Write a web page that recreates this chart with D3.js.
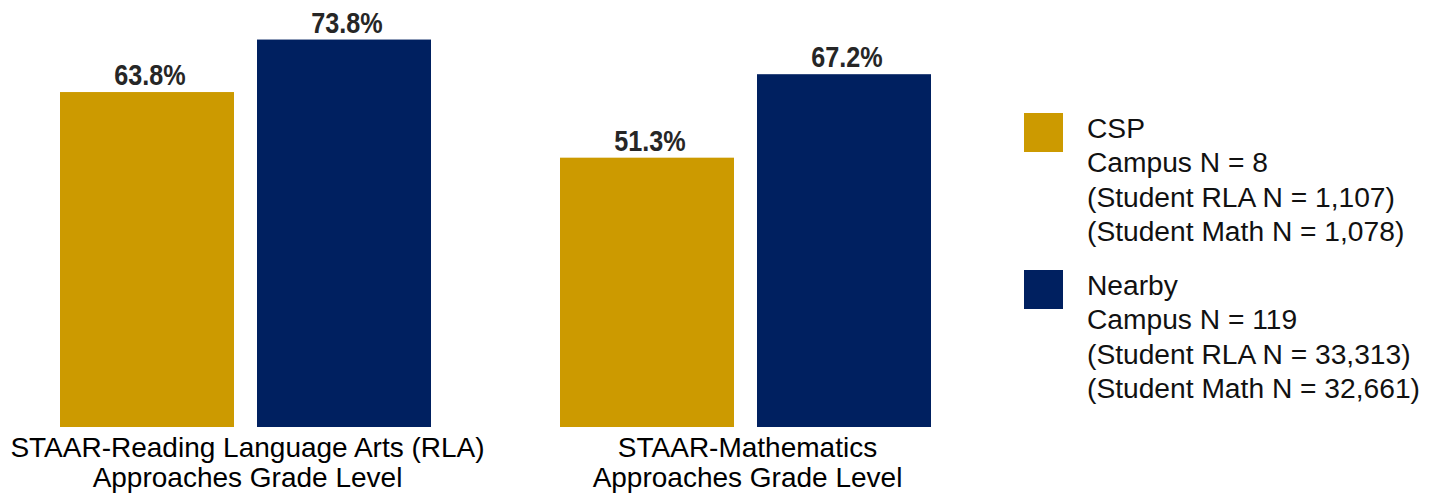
<!DOCTYPE html>
<html>
<head>
<meta charset="utf-8">
<script src="https://cdn.jsdelivr.net/npm/d3@7"></script>
<style>
  body { margin: 0; background: #fff; }
  svg { display: block; }
</style>
</head>
<body>
<script>
// Data
var categories = ["rla", "math"];
var categoryLabels = [
    ["STAAR-Reading Language Arts (RLA)", "Approaches Grade Level"],
    ["STAAR-Mathematics", "Approaches Grade Level"]
];
var seriesNames = ["CSP", "Nearby"];
var cspValues = [63.8, 51.3];
var nearbyValues = [73.8, 67.2];
var legendLines = [
    ["CSP", "Campus N = 8", "(Student RLA N = 1,107)", "(Student Math N = 1,078)"],
    ["Nearby", "Campus N = 119", "(Student RLA N = 33,313)", "(Student Math N = 32,661)"]
];
var colors = ["#CC9A00", "#002060"];

var width = 1435, height = 495;

var data = [];
categories.forEach((c, i) => {
    data.push({ cat: c, series: "CSP", value: cspValues[i] });
    data.push({ cat: c, series: "Nearby", value: nearbyValues[i] });
});

var svg = d3.select("body").append("svg")
    .attr("width", width)
    .attr("height", height);

// Scales
var x0 = d3.scaleBand()
    .domain(categories)
    .range([0, 991])
    .paddingInner(0.258)
    .paddingOuter(0.12);

var x1 = d3.scaleBand()
    .domain(seriesNames)
    .range([0, x0.bandwidth()])
    .paddingInner(0.1168)
    .paddingOuter(0);

var y = d3.scaleLinear()
    .domain([0, 100])
    .range([427, -98]);

var color = d3.scaleOrdinal(seriesNames, colors);

// Bars
var bars = svg.append("g");
bars.selectAll("rect")
    .data(data)
    .join("rect")
    .attr("x", d => x0(d.cat) + x1(d.series))
    .attr("y", d => y(d.value))
    .attr("width", x1.bandwidth())
    .attr("height", d => y(0) - y(d.value))
    .attr("fill", d => color(d.series));

// Value labels (narrow bold look: squeeze Liberation Sans Bold horizontally)
bars.selectAll("g.vlabel")
    .data(data)
    .join("g")
    .attr("class", "vlabel")
    .attr("transform", d => `translate(${x0(d.cat) + x1(d.series) + x1.bandwidth() / 2 + 3},${y(d.value) - 7}) scale(0.84,1)`)
    .append("text")
    .attr("text-anchor", "middle")
    .attr("font-family", "'Liberation Sans', Arial, sans-serif")
    .attr("font-weight", "bold")
    .attr("font-size", 30)
    .attr("fill", "#262626")
    .text(d => d.value.toFixed(1) + "%");

// Category axis labels
var axis = svg.append("g");
categories.forEach((c, i) => {
    var cx = x0(c) + x0.bandwidth() / 2 + 2;
    var t = axis.append("text")
        .attr("x", cx)
        .attr("y", 457)
        .attr("text-anchor", "middle")
        .attr("font-family", "'Liberation Sans', Arial, sans-serif")
        .attr("font-size", 28)
        .attr("fill", "#000");
    categoryLabels[i].forEach((line, j) => {
        t.append("tspan")
            .attr("x", cx)
            .attr("dy", j === 0 ? 0 : 30)
            .text(line);
    });
});

// Legend
var legend = svg.append("g").attr("transform", "translate(1024,113)");
var legendItems = legend.selectAll("g")
    .data(seriesNames)
    .join("g")
    .attr("transform", (d, i) => `translate(0,${i * 157})`);

legendItems.append("rect")
    .attr("width", 39)
    .attr("height", 39)
    .attr("fill", d => color(d));

legendItems.append("text")
    .attr("font-family", "'Liberation Sans', Arial, sans-serif")
    .attr("font-size", 28.2)
    .attr("fill", "#111")
    .selectAll("tspan")
    .data((d, i) => legendLines[i])
    .join("tspan")
    .attr("x", 63)
    .attr("y", (d, j) => 25 + j * 34.3)
    .text(d => d);
</script>
</body>
</html>
